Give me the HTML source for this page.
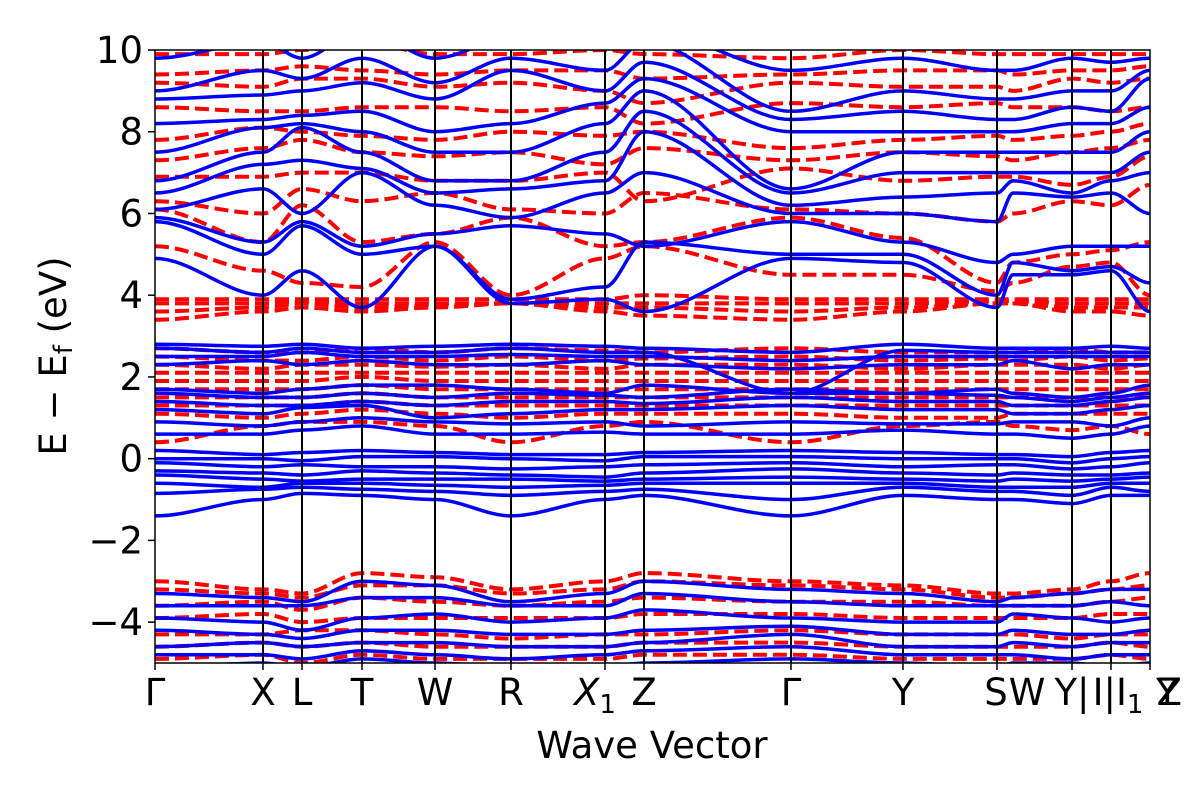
<!DOCTYPE html>
<html><head><meta charset="utf-8"><style>
body{margin:0;background:#fff;}
svg text{font-family:"DejaVu Sans","Liberation Sans",sans-serif;fill:#000;}
</style></head><body>
<svg id="chart" width="1200" height="800" viewBox="0 0 1200 800" xmlns="http://www.w3.org/2000/svg">
<defs><clipPath id="plotclip"><rect x="155" y="50" width="995" height="613"/></clipPath></defs>
<rect width="1200" height="800" fill="#fff"/>
<g id="bands-red" clip-path="url(#plotclip)"></g>
<g id="bands-blue" clip-path="url(#plotclip)"></g>
<g id="vlines"></g>
<rect x="155" y="50" width="995" height="613" fill="none" stroke="#000" stroke-width="1.5"/>
<g id="yticks"></g>
<g id="xticks"></g>
<text transform="translate(66,356) rotate(-90)" text-anchor="middle" font-size="37">E − E<tspan font-size="26" dy="6">f</tspan><tspan dy="-6"> (eV)</tspan></text>
<text x="652" y="758" text-anchor="middle" font-size="37">Wave Vector</text>
</svg>
<script>
const kDist = [0,108,147,207,280,356,450,489,636,748,842,858,917,956,995];
const kLabels = ["Γ","X","L","T","W","R","X1","Z","Γ","Y","S","W","Y|I","I|I1","Y|Z"];
const yTicks = [10,8,6,4,2,0,-2,-4];
const blueBands = [
[-1.4,-1.0,-0.85,-0.9,-1.0,-1.4,-1.0,-0.9,-1.4,-0.9,-1.0,-1.0,-1.1,-0.9,-0.9],
[-0.85,-0.75,-0.7,-0.75,-0.8,-0.9,-0.8,-0.75,-1.0,-0.7,-0.8,-0.8,-0.9,-0.7,-0.8],
[-0.6,-0.7,-0.6,-0.6,-0.65,-0.7,-0.65,-0.6,-0.6,-0.6,-0.7,-0.7,-0.7,-0.6,-0.6],
[-0.4,-0.5,-0.55,-0.5,-0.5,-0.5,-0.55,-0.5,-0.45,-0.5,-0.55,-0.5,-0.55,-0.5,-0.45],
[-0.3,-0.35,-0.4,-0.3,-0.35,-0.4,-0.45,-0.35,-0.25,-0.35,-0.4,-0.35,-0.4,-0.4,-0.35],
[-0.1,-0.2,-0.15,-0.2,-0.2,-0.25,-0.2,-0.15,-0.1,-0.2,-0.15,-0.15,-0.25,-0.2,-0.1],
[0.0,0.0,-0.05,0.05,0.05,0.0,-0.05,0.05,0.05,0.0,0.0,0.0,-0.1,0.0,0.05],
[0.2,0.1,0.15,0.2,0.15,0.1,0.1,0.15,0.2,0.15,0.1,0.1,0.05,0.15,0.2],
[0.6,0.6,0.7,0.8,0.6,0.6,0.65,0.6,0.6,0.7,0.6,0.6,0.5,0.6,0.8],
[0.9,0.8,0.9,1.0,0.9,0.85,0.9,0.8,0.9,0.85,0.85,0.9,0.9,0.8,1.0],
[1.2,1.1,1.25,1.3,1.0,1.1,1.2,1.2,1.3,1.2,1.2,1.1,1.1,1.2,1.3],
[1.4,1.3,1.3,1.4,1.3,1.4,1.4,1.35,1.5,1.4,1.4,1.3,1.3,1.4,1.5],
[1.6,1.5,1.5,1.6,1.5,1.6,1.55,1.5,1.7,1.6,1.55,1.5,1.4,1.5,1.6],
[1.7,1.6,1.7,1.8,1.8,1.7,1.6,1.8,1.6,1.6,1.7,1.6,1.5,1.6,1.8],
[2.3,2.4,2.3,2.4,2.3,2.3,2.4,2.3,2.2,2.3,2.3,2.4,2.2,2.3,2.3],
[2.5,2.5,2.6,2.5,2.5,2.55,2.5,2.5,2.4,2.5,2.5,2.5,2.5,2.5,2.5],
[2.7,2.6,2.7,2.6,2.6,2.7,2.6,2.6,1.6,2.65,2.6,2.6,2.6,2.6,2.6],
[2.8,2.75,2.8,2.7,2.75,2.8,2.75,2.7,2.6,2.8,2.7,2.7,2.7,2.75,2.7],
[4.9,4.0,4.6,3.7,5.2,3.8,3.9,3.6,4.9,4.8,3.7,4.5,4.5,4.6,3.6],
[5.8,5.0,5.7,5.0,5.2,3.9,4.2,5.3,5.0,5.0,4.0,4.8,4.6,4.7,4.3],
[5.9,5.3,5.8,5.2,5.5,5.7,5.5,5.2,5.8,5.3,4.8,5.0,5.2,5.2,5.2],
[6.1,6.6,6.0,7.0,6.2,5.9,6.5,7.0,6.0,6.0,5.8,6.5,6.4,6.5,6.0],
[6.5,7.2,7.3,7.1,6.5,6.6,6.8,8.0,6.2,6.4,6.5,6.8,6.5,6.8,7.0],
[6.8,7.5,8.1,7.5,6.8,6.8,7.5,8.5,6.5,7.0,7.0,7.0,7.0,7.0,7.5],
[7.5,8.1,8.2,8.0,7.5,7.5,8.2,9.0,6.6,7.5,7.5,7.5,7.5,7.5,8.0],
[8.2,8.3,8.4,8.5,8.0,8.2,8.7,9.3,8.0,8.0,8.0,8.0,8.2,8.2,8.6],
[8.8,8.9,9.0,9.2,8.8,9.5,9.0,9.7,8.3,8.5,8.3,8.3,8.6,8.5,9.3],
[9.0,9.5,9.3,9.8,9.2,9.8,9.5,10.2,8.5,9.0,8.8,8.8,9.0,9.0,9.5],
[9.8,10.2,9.8,10.5,9.8,10.3,10.3,10.5,9.5,9.8,9.5,9.5,9.8,9.7,9.8],
[-3.3,-3.4,-3.5,-3.0,-3.1,-3.5,-3.3,-3.0,-3.2,-3.3,-3.5,-3.4,-3.3,-3.2,-3.2],
[-3.6,-3.6,-3.6,-3.4,-3.4,-3.6,-3.6,-3.3,-3.5,-3.6,-3.6,-3.6,-3.6,-3.5,-3.6],
[-3.9,-4.0,-4.2,-3.9,-3.8,-4.0,-3.9,-3.7,-3.9,-4.0,-4.0,-3.8,-3.9,-4.0,-3.9],
[-4.2,-4.3,-4.4,-4.2,-4.2,-4.3,-4.3,-4.2,-4.1,-4.3,-4.3,-4.2,-4.3,-4.3,-4.2],
[-4.6,-4.5,-4.6,-4.5,-4.5,-4.6,-4.6,-4.5,-4.3,-4.6,-4.6,-4.5,-4.6,-4.5,-4.5],
[-4.8,-4.8,-4.9,-4.7,-4.8,-4.9,-4.8,-4.7,-4.6,-4.8,-4.8,-4.8,-4.9,-4.8,-4.8],
[-5.1,-5.0,-5.1,-4.9,-5.0,-5.1,-5.1,-5.0,-4.9,-5.0,-5.1,-5.0,-5.0,-5.1,-5.0]
];
const redBands = [
[0.4,0.8,0.9,0.9,0.8,0.4,0.8,0.9,0.4,0.8,0.9,0.8,0.7,0.8,0.6],
[1.1,1.0,1.1,1.2,1.1,1.0,1.1,1.1,1.1,1.0,1.0,1.1,1.1,1.1,1.1],
[1.3,1.3,1.3,1.4,1.3,1.3,1.3,1.3,1.3,1.3,1.3,1.3,1.3,1.3,1.3],
[1.5,1.5,1.5,1.6,1.5,1.5,1.5,1.5,1.5,1.5,1.5,1.5,1.5,1.5,1.5],
[1.7,1.7,1.7,1.8,1.7,1.7,1.7,1.7,1.7,1.7,1.7,1.7,1.7,1.7,1.7],
[1.9,1.9,1.9,2.0,1.9,1.9,1.9,1.9,1.9,1.9,1.9,1.9,1.9,1.9,1.9],
[2.1,2.1,2.1,2.1,2.1,2.1,2.1,2.1,2.1,2.1,2.1,2.1,2.1,2.1,2.1],
[2.3,2.2,2.3,2.3,2.25,2.3,2.2,2.3,2.3,2.2,2.3,2.3,2.3,2.2,2.3],
[2.5,2.4,2.4,2.5,2.4,2.5,2.4,2.45,2.5,2.4,2.45,2.4,2.5,2.4,2.45],
[2.7,2.6,2.6,2.7,2.6,2.7,2.65,2.6,2.7,2.6,2.6,2.6,2.7,2.6,2.6],
[3.4,3.6,3.7,3.6,3.7,3.8,3.6,3.5,3.4,3.6,3.8,3.8,3.6,3.6,3.5],
[3.6,3.7,3.8,3.7,3.75,3.8,3.7,3.7,3.6,3.7,3.8,3.8,3.7,3.7,3.7],
[3.8,3.8,3.85,3.8,3.8,3.8,3.8,3.8,3.8,3.8,3.85,3.85,3.8,3.8,3.8],
[3.9,3.9,3.9,3.9,3.9,3.9,3.9,4.0,3.9,3.9,3.9,3.9,3.9,3.9,3.9],
[5.2,4.6,4.3,4.2,5.3,4.0,4.9,5.2,4.5,4.5,4.1,4.3,4.7,4.8,4.0],
[6.1,5.3,6.2,5.3,5.5,5.9,5.2,5.3,5.9,5.4,4.3,4.8,5.0,5.1,5.3],
[6.3,6.0,6.6,6.3,6.5,6.1,6.0,6.5,6.1,6.0,5.8,6.0,6.3,6.2,6.7],
[6.9,6.9,7.0,7.0,6.8,6.8,7.0,6.3,7.1,6.8,6.9,6.9,6.7,6.9,7.4],
[7.3,7.6,7.8,7.5,7.4,7.5,7.2,7.6,7.3,7.5,7.4,7.3,7.5,7.6,7.8],
[7.8,8.1,8.0,7.9,7.8,8.0,7.9,8.0,7.6,7.8,7.9,7.8,7.9,8.0,8.2],
[8.6,8.5,8.5,8.6,8.6,8.5,8.6,8.2,8.7,8.6,8.7,8.6,8.6,8.5,8.6],
[9.2,9.1,9.3,9.3,9.1,9.2,9.0,8.7,9.2,9.1,9.1,9.0,9.3,9.2,9.3],
[9.4,9.5,9.6,9.5,9.4,9.5,9.5,9.3,9.4,9.5,9.5,9.4,9.5,9.5,9.6],
[9.9,9.9,10.0,10.2,9.9,9.9,10.0,9.9,9.8,10.0,9.9,9.9,9.9,9.9,9.9],
[-3.0,-3.2,-3.3,-2.8,-2.9,-3.2,-3.0,-2.8,-3.0,-3.1,-3.3,-3.3,-3.2,-3.0,-2.8],
[-3.2,-3.3,-3.4,-3.1,-3.1,-3.3,-3.2,-3.0,-3.1,-3.2,-3.4,-3.4,-3.3,-3.2,-3.1],
[-3.6,-3.5,-3.7,-3.4,-3.5,-3.6,-3.5,-3.4,-3.5,-3.5,-3.6,-3.6,-3.6,-3.5,-3.4],
[-3.9,-3.8,-4.0,-3.9,-3.9,-3.9,-3.9,-3.8,-3.8,-3.9,-3.9,-3.9,-3.9,-3.8,-3.8],
[-4.3,-4.3,-4.2,-4.2,-4.3,-4.4,-4.3,-4.3,-4.2,-4.3,-4.3,-4.3,-4.4,-4.3,-4.3],
[-4.6,-4.5,-4.6,-4.5,-4.6,-4.6,-4.6,-4.5,-4.5,-4.6,-4.6,-4.6,-4.6,-4.5,-4.6],
[-4.9,-4.8,-5.0,-4.8,-4.9,-4.9,-4.9,-4.8,-4.8,-4.9,-4.9,-4.9,-4.9,-4.8,-4.9]
];
const NS = "http://www.w3.org/2000/svg";
const X0 = 155, X1 = 1150, Y0 = 663, Y1 = 50, EMIN = -5, EMAX = 10;
const kMax = kDist[kDist.length - 1];
function xs(k){ return X0 + (k / kMax) * (X1 - X0); }
function ys(e){ return Y0 - (e - EMIN) / (EMAX - EMIN) * (Y0 - Y1); }
function bandPath(vals){
  let d = "M" + xs(kDist[0]).toFixed(1) + "," + ys(vals[0]).toFixed(1);
  for (let i = 1; i < vals.length; i++){
    const xa = xs(kDist[i-1]), xb = xs(kDist[i]), ya = ys(vals[i-1]), yb = ys(vals[i]);
    const dx = (xb - xa) / 3;
    d += " C" + (xa+dx).toFixed(1) + "," + ya.toFixed(1) + " " + (xb-dx).toFixed(1) + "," + yb.toFixed(1) + " " + xb.toFixed(1) + "," + yb.toFixed(1);
  }
  return d;
}
const gR = document.getElementById("bands-red");
redBands.forEach(function(b){
  const p = document.createElementNS(NS, "path");
  p.setAttribute("d", bandPath(b));
  p.setAttribute("fill", "none");
  p.setAttribute("stroke", "#ff0000");
  p.setAttribute("stroke-width", "4");
  p.setAttribute("stroke-dasharray", "14,6");
  
  
  gR.appendChild(p);
});
const gB = document.getElementById("bands-blue");
blueBands.forEach(function(b){
  const p = document.createElementNS(NS, "path");
  p.setAttribute("d", bandPath(b));
  p.setAttribute("fill", "none");
  p.setAttribute("stroke", "#0000ff");
  p.setAttribute("stroke-width", "3.5");
  
  
  gB.appendChild(p);
});
const gV = document.getElementById("vlines");
kDist.forEach(function(k, i){
  if (i === 0 || i === kDist.length - 1 || i === 11) return;
  const l = document.createElementNS(NS, "line");
  l.setAttribute("x1", xs(k)); l.setAttribute("x2", xs(k));
  l.setAttribute("y1", Y1); l.setAttribute("y2", Y0);
  l.setAttribute("stroke", "#000"); l.setAttribute("stroke-width", "2");
  
  
  gV.appendChild(l);
});
const gY = document.getElementById("yticks");
yTicks.forEach(function(v){
  const t = document.createElementNS(NS, "line");
  t.setAttribute("x1", X0 - 7); t.setAttribute("x2", X0);
  t.setAttribute("y1", ys(v)); t.setAttribute("y2", ys(v));
  t.setAttribute("stroke", "#000"); t.setAttribute("stroke-width", "1.5");
  
  
  gY.appendChild(t);
  const tx = document.createElementNS(NS, "text");
  tx.setAttribute("x", X0 - 12); tx.setAttribute("y", ys(v) + 13);
  tx.setAttribute("text-anchor", "end"); tx.setAttribute("font-size", "37");
  tx.textContent = v < 0 ? "−" + Math.abs(v) : String(v);
  
  
  gY.appendChild(tx);
});
const gX = document.getElementById("xticks");
kDist.forEach(function(k, i){
  if (i !== 11){
    const t = document.createElementNS(NS, "line");
    t.setAttribute("x1", xs(k)); t.setAttribute("x2", xs(k));
    t.setAttribute("y1", Y0); t.setAttribute("y2", Y0 + 7);
    t.setAttribute("stroke", "#000"); t.setAttribute("stroke-width", "1.5");
    
    
    gX.appendChild(t);
  }
  const tx = document.createElementNS(NS, "text");
  tx.setAttribute("y", 705); tx.setAttribute("font-size", "37");
  tx.setAttribute("text-anchor", "middle");
  let x = xs(k);
  const lab = kLabels[i];
  if (lab === "X1"){ tx.innerHTML = '<tspan font-style="italic">X</tspan><tspan font-size="26" dy="8">1</tspan>'; x -= 10; }
  else if (lab === "W" && i === 11){ tx.textContent = "W"; x = 1027; }
  else if (lab === "S"){ tx.textContent = "S"; x = 996; }
  else if (lab === "Y|I"){ tx.textContent = "Y|"; x = 1072; }
  else if (lab === "I|I1"){ tx.innerHTML = 'I|I<tspan font-size="26" dy="8">1</tspan>'; x = 1118; }
  else if (lab === "Y|Z"){ tx.textContent = "YZ"; tx.setAttribute("letter-spacing", "-22"); x = 1158; }
  else tx.textContent = lab;
  tx.setAttribute("x", x);
  
  
  gX.appendChild(tx);
});
</script>
</body></html>
